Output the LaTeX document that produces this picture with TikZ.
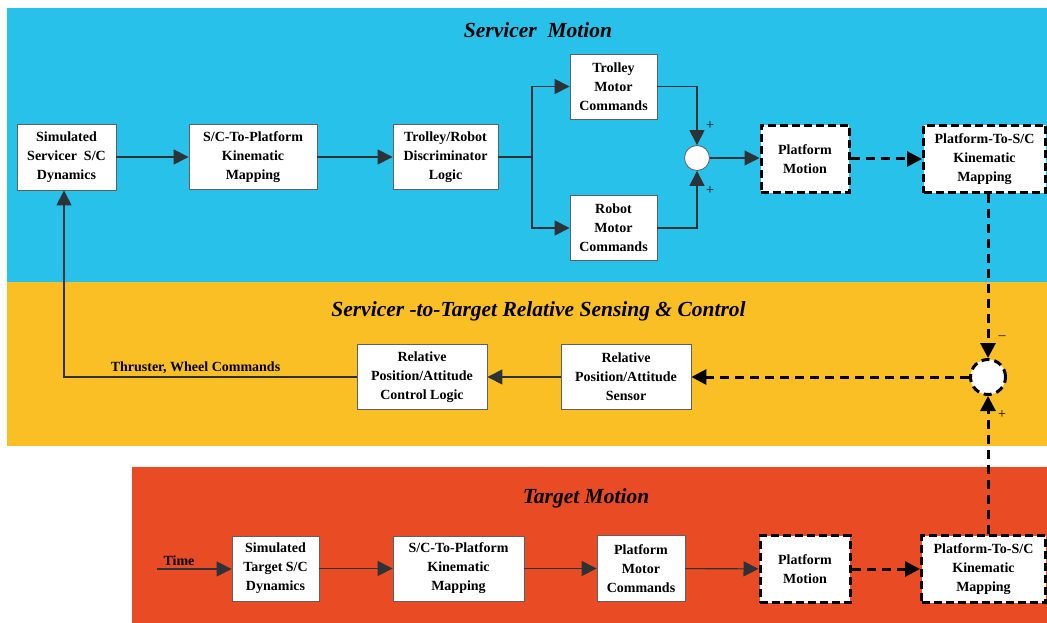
\documentclass[tikz,border=0pt]{standalone}
\usepackage{fontspec}
\setmainfont{Liberation Serif}
\usetikzlibrary{arrows.meta,calc}
\definecolor{bandblue}{RGB}{40,193,234}
\definecolor{bandyellow}{RGB}{251,191,38}
\definecolor{bandred}{RGB}{233,75,36}
\definecolor{lineclr}{RGB}{45,50,55}
\tikzset{
  blk/.style={draw=gray!75!black, line width=0.8pt, fill=white, inner sep=0pt,
    align=center, font=\bfseries\fontsize{14}{19}\selectfont},
  dblk/.style={draw=black, line width=3pt, dash pattern=on 8pt off 4pt, fill=white,
    inner sep=0pt, align=center, font=\bfseries\fontsize{14}{19}\selectfont},
  ttl/.style={font=\bfseries\itshape\fontsize{21.5}{24}\selectfont, inner sep=0pt},
  lbl/.style={font=\bfseries\fontsize{14}{16}\selectfont, inner sep=0pt},
  sgn/.style={font=\fontsize{14}{14}\selectfont, inner sep=0pt},
  tip/.style={-{Triangle[length=15pt,width=15pt]}},
  conn/.style={draw=lineclr, line width=1.1pt, tip},
  plain/.style={draw=lineclr, line width=1.1pt},
  dconn/.style={draw=black, line width=3pt, dash pattern=on 9pt off 6pt, tip},
  sumj/.style={circle, draw=gray!75!black, line width=0.8pt, fill=white, inner sep=0pt},
  dsumj/.style={circle, draw=black, line width=3pt, dash pattern=on 8pt off 5pt, fill=white, inner sep=0pt}
}
\begin{document}
\begin{tikzpicture}[x=1pt,y=-1pt]
\useasboundingbox (0,0) rectangle (1047,623);
\fill[white] (0,0) rectangle (1047,623);
\fill[bandblue] (7,8) rectangle (1047,282);
\fill[bandyellow] (7,282) rectangle (1047,446);
\fill[bandred] (132,467) rectangle (1047,623);

% titles
\node[ttl] (t1) at (538,30) {Servicer\ \ Motion};
\node[ttl] (t2) at (538.5,311) {Servicer -to-Target Relative Sensing \& Control};
\node[ttl] (t3) at (586,498) {Target Motion};

% servicer motion
\node[blk, minimum width=99pt, minimum height=66pt] (ssim) at (66.5,157) {Simulated\\Servicer\ \ S/C\\Dynamics};
\node[blk, minimum width=128pt, minimum height=65pt] (sc2p) at (253,157) {S/C-To-Platform\\Kinematic\\Mapping};
\node[blk, minimum width=105pt, minimum height=65pt] (trd) at (445.5,157) {Trolley/Robot\\Discriminator\\Logic};
\node[blk, minimum width=87pt, minimum height=65pt] (tmc) at (613.5,86.5) {Trolley\\Motor\\Commands};
\node[blk, minimum width=87pt, minimum height=65pt] (rmc) at (613.5,228) {Robot\\Motor\\Commands};
\node[sumj, minimum size=25pt] (sum1) at (697,158) {};
\node[dblk, minimum width=88pt, minimum height=67pt] (pm1) at (805,159) {Platform\\Motion};
\node[dblk, minimum width=122pt, minimum height=67pt] (p2s1) at (984.5,159) {Platform-To-S/C\\Kinematic\\Mapping};

% relative sensing
\node[dsumj, minimum size=35pt] (sum2) at (988,377) {};
\node[blk, minimum width=130pt, minimum height=65pt] (sens) at (626,377) {Relative\\Position/Attitude\\Sensor};
\node[blk, minimum width=130pt, minimum height=65pt] (ctrl) at (422,377) {Relative\\Position/Attitude\\Control Logic};
\node[lbl] (thr) at (195.5,368) {Thruster, Wheel Commands};

% target motion
\node[blk, minimum width=87pt, minimum height=65pt] (tsim) at (275.5,568.5) {Simulated\\Target S/C\\Dynamics};
\node[blk, minimum width=131pt, minimum height=65pt] (tsc2p) at (458.5,568.5) {S/C-To-Platform\\Kinematic\\Mapping};
\node[blk, minimum width=88pt, minimum height=66pt] (pmc) at (641,568.5) {Platform\\Motor\\Commands};
\node[dblk, minimum width=90pt, minimum height=67pt] (pm2) at (805,569) {Platform\\Motion};
\node[dblk, minimum width=124pt, minimum height=67pt] (p2s2) at (983.5,569) {Platform-To-S/C\\Kinematic\\Mapping};
\node[lbl] (time) at (179,561) {Time};

% connectors: servicer
\draw[conn] (ssim) -- (sc2p);
\draw[conn] (sc2p) -- (trd);
\coordinate (br) at (532,157);
\draw[plain] (trd.east) -- (br);
\draw[conn] (br) |- (tmc.west);
\draw[conn] (br) |- (rmc.west);
\draw[conn] (tmc.east) -| (sum1.north);
\draw[conn] (rmc.east) -| (sum1.south);
\node[sgn] (p1) at (710,126) {+};
\node[sgn] (p2) at (710,191) {+};
\draw[conn] (sum1.east) -- (sum1.east -| pm1.west);
\draw[dconn] (pm1) -- (p2s1);

% connectors: relative
\draw[dconn] (sum2 |- p2s1.south) -- (sum2.north);
\draw[dconn] (sum2 |- p2s2.north) -- (sum2.south);
\node[sgn] (m1) at (1002,338) {--};
\node[sgn] (p3) at (1002,415) {+};
\draw[dconn] (sum2) -- (sens);
\draw[conn] (sens) -- (ctrl);
\coordinate (fb) at (64,377);
\draw[conn] (ctrl.west) -- (fb) -- (fb |- ssim.south);

% connectors: target
\coordinate (tin) at (157,569);
\draw[conn] (tin) -- (tin -| tsim.west);
\draw[conn] (tsim) -- (tsc2p);
\draw[conn] (tsc2p) -- (pmc);
\draw[conn] (pmc) -- (pm2);
\draw[dconn] (pm2) -- (p2s2);
\end{tikzpicture}
\end{document}
